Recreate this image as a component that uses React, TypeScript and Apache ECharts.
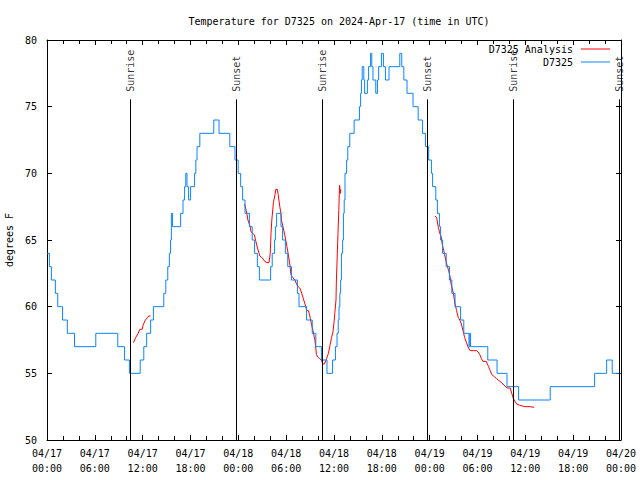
import React, { useEffect, useRef } from 'react';
import * as echarts from 'echarts';

const FONT = 'DejaVu Sans Mono';

const titleText = 'Temperature for D7325 on 2024-Apr-17 (time in UTC)';

// x tick labels every 6 h, hours counted from 2024-04-17 00:00 UTC
const tickLabels = [
  '04/17\n00:00', '04/17\n06:00', '04/17\n12:00', '04/17\n18:00',
  '04/18\n00:00', '04/18\n06:00', '04/18\n12:00', '04/18\n18:00',
  '04/19\n00:00', '04/19\n06:00', '04/19\n12:00', '04/19\n18:00',
  '04/20\n00:00',
];

const sunriseHours = [10.45, 34.53, 58.49];
const sunsetHours = [23.71, 47.7, 71.78];

// Observed temperature (deg F); each value holds from its hour until the next
const observed: [number, number][] = [
  [0, 64], [0.3, 63], [0.55, 62], [1.05, 61], [1.35, 60], [1.95, 59], [2.55, 58], [3.45, 57],
  [6.12, 58], [8.88, 57], [9.73, 56], [10.34, 55], [11.69, 56], [12.14, 57], [12.5, 58],
  [13.0, 59], [13.35, 60], [14.65, 61], [14.9, 62], [15.15, 63], [15.35, 64], [15.5, 65],
  [15.6, 67], [15.75, 66], [16.76, 67], [17.06, 68], [17.26, 69], [17.41, 70], [17.56, 69],
  [17.76, 68], [18.01, 69], [18.51, 70], [18.67, 71], [18.82, 72], [19.17, 73], [20.92, 74],
  [21.58, 73], [22.93, 72], [23.58, 71], [23.98, 70], [24.29, 69], [24.54, 68], [24.84, 67],
  [25.39, 66], [25.74, 65], [26.04, 64], [26.39, 63], [26.64, 62], [28.05, 63], [28.25, 64],
  [28.55, 65], [28.65, 66], [28.8, 67], [29.35, 66], [29.55, 65], [29.9, 64], [30.2, 63],
  [30.66, 62], [31.41, 61], [31.61, 60], [32.56, 59], [33.27, 58], [33.72, 57], [34.42, 56],
  [35.12, 55], [35.82, 56], [36.18, 57], [36.38, 58], [36.53, 59], [36.63, 60], [36.73, 61],
  [36.83, 62], [36.93, 64], [37.08, 65], [37.18, 67], [37.28, 68], [37.38, 70], [37.58, 71],
  [37.73, 72], [37.98, 73], [38.53, 74], [39.19, 75], [39.34, 76], [39.44, 77], [39.54, 78],
  [39.74, 77], [39.84, 76], [40.19, 77], [40.34, 78], [40.59, 79], [40.74, 78], [40.89, 77],
  [41.24, 76], [41.45, 77], [41.6, 78], [41.95, 79], [42.2, 78], [42.45, 77], [42.9, 78],
  [44.25, 79], [44.5, 78], [44.76, 77], [45.16, 76], [45.91, 75], [46.56, 74], [47.11, 73],
  [47.47, 72], [47.87, 71], [48.22, 70], [48.37, 69], [48.77, 68], [48.97, 67], [49.22, 66],
  [49.37, 65], [49.62, 64], [50.07, 63], [50.48, 62], [50.78, 61], [51.18, 60], [51.88, 59],
  [52.28, 58], [52.93, 57], [53.03, 58], [53.13, 57], [55.29, 56], [56.45, 55], [57.7, 54],
  [59.16, 53], [63.12, 54], [68.69, 55], [70.2, 56], [70.9, 55], [71.95, 55],
];

// Analysis series, three separate stretches
const analysisA: [number, number][] = [
  [10.84, 57.3], [11.14, 57.7], [11.44, 58.0], [11.64, 58.3], [11.94, 58.3], [12.04, 58.6],
  [12.34, 59.0], [12.64, 59.2], [12.74, 59.3], [13.0, 59.3],
];
const analysisB: [number, number][] = [
  [24.79, 67.7], [24.99, 67.2], [25.1, 66.9], [25.2, 66.5], [25.49, 66], [25.6, 65.6],
  [25.8, 65.5], [26.0, 65.4], [26.2, 64.9], [26.4, 64.4], [26.6, 64], [26.7, 63.8],
  [26.9, 63.7], [27.1, 63.6], [27.3, 63.4], [27.6, 63.3], [27.85, 63.3], [28.0, 64],
  [28.1, 65.5], [28.2, 66.5], [28.4, 67.8], [28.6, 68.4], [28.7, 68.8], [28.9, 68.8],
  [29.0, 68.4], [29.2, 67.5], [29.35, 67], [29.4, 66.5], [29.6, 66], [29.85, 65.3],
  [30.1, 64.5], [30.3, 63.8], [30.5, 63], [30.6, 62.4], [30.8, 62.2], [31.1, 62],
  [31.3, 61.7], [31.5, 61.5], [31.7, 61.4], [31.9, 61.1], [32.1, 60.7], [32.36, 60.2],
  [32.6, 59.7], [32.8, 59.7], [33.0, 59.2], [33.2, 58.6], [33.4, 58.1], [33.6, 57.5],
  [33.7, 57], [33.8, 56.4], [34.0, 56.2], [34.2, 56.1], [34.4, 56], [34.6, 55.7],
  [34.8, 55.7], [35.07, 56.1], [35.3, 56.5], [35.5, 57.1], [35.7, 57.7], [35.87, 58.1],
  [36.0, 58.8], [36.1, 59.5], [36.25, 60.5], [36.3, 62], [36.4, 63.7], [36.5, 65.5],
  [36.6, 67.2], [36.7, 69.1], [36.8, 68.5], [36.85, 68.8],
];
const analysisC: [number, number][] = [
  [48.67, 66.8], [48.87, 66.7], [49.07, 66], [49.27, 65.5], [49.47, 65.2], [49.57, 64.7],
  [49.77, 64.2], [49.87, 63.9], [50.14, 63.2], [50.38, 62.7], [50.58, 62.2], [50.68, 61.7],
  [50.98, 61], [51.18, 60.2], [51.38, 59.7], [51.58, 59.2], [51.78, 59], [51.98, 58.7],
  [52.18, 58.2], [52.38, 57.7], [52.68, 57.2], [52.88, 56.9], [53.08, 56.7], [53.49, 56.7],
  [53.89, 56.7], [54.09, 56.6], [54.29, 56.4], [54.49, 56.1], [54.69, 55.9], [55.09, 55.9],
  [55.39, 55.5], [55.59, 55.2], [55.8, 54.9], [56.0, 54.8], [56.4, 54.6], [56.8, 54.4],
  [57.2, 54.2], [57.7, 53.9], [58.1, 53.9], [58.3, 53.5], [58.5, 53.1], [58.7, 52.9],
  [58.9, 52.7], [59.3, 52.6], [59.96, 52.5], [60.6, 52.5], [61.1, 52.45],
];

const RED = '#ff0000';
const BLUE = '#0a84ff';
const SUN_LINE_TOP = 75.55;

export default function App() {
  const ref = useRef<HTMLDivElement>(null);

  useEffect(() => {
    if (!ref.current) return;
    const chart = echarts.init(ref.current, null, { renderer: 'svg' });

    const textBase = { fontFamily: FONT, fontSize: 10, color: '#000' };

    const xBase: any = {
      type: 'value',
      min: 0,
      max: 72,
      interval: 6,
      axisLine: { show: true, onZero: false, lineStyle: { color: '#000', width: 1 } },
      axisTick: { show: true, inside: true, length: 5, lineStyle: { color: '#000', width: 1 } },
      minorTick: { show: true, splitNumber: 3, length: 4, lineStyle: { color: '#000', width: 1 } },
      splitLine: { show: false },
      minorSplitLine: { show: false },
    };
    const yBase: any = {
      type: 'value',
      min: 50,
      max: 80,
      interval: 5,
      axisLine: { show: true, onZero: false, lineStyle: { color: '#000', width: 1 } },
      axisTick: { show: true, inside: true, length: 5, lineStyle: { color: '#000', width: 1 } },
      splitLine: { show: false },
    };

    const sunEvents = [
      ...sunriseHours.map((t) => ({ name: 'Sunrise', value: [t, SUN_LINE_TOP] })),
      ...sunsetHours.map((t) => ({ name: 'Sunset', value: [t, SUN_LINE_TOP] })),
    ];

    const analysisSeries = [analysisA, analysisB, analysisC].map((seg) => ({
      type: 'line',
      name: 'D7325 Analysis',
      data: seg,
      symbol: 'none',
      lineStyle: { color: RED, width: 1 },
      itemStyle: { color: RED },
      z: 3,
    }));

    const legendBase: any = {
      right: 30,
      orient: 'vertical',
      align: 'right',
      padding: 0,
      itemWidth: 29,
      itemHeight: 1,
      icon: 'rect',
      textStyle: { ...textBase, padding: [0, 3, 0, 0] },
      selectedMode: false,
    };

    const option: any = {
      animation: false,
      backgroundColor: '#fff',
      title: {
        text: titleText,
        left: 334,
        textAlign: 'center',
        top: 11,
        textStyle: { ...textBase, fontWeight: 'normal' },
      },
      legend: [
        { ...legendBase, data: ['D7325 Analysis'], top: 44 },
        { ...legendBase, data: ['D7325'], top: 57 },
      ],
      grid: {
        left: 47,
        right: 19,
        top: 40,
        bottom: 40,
        containLabel: false,
        outerBoundsMode: 'none',
      },
      xAxis: [
        {
          ...xBase,
          position: 'bottom',
          axisLabel: {
            ...textBase,
            margin: 6,
            lineHeight: 15,
            showMinLabel: true,
            showMaxLabel: true,
            formatter: (v: number) => tickLabels[Math.round(v / 6)] ?? '',
          },
        },
        { ...xBase, position: 'top', axisLabel: { show: false } },
      ],
      yAxis: [
        {
          ...yBase,
          position: 'left',
          name: 'degrees F',
          nameLocation: 'middle',
          nameGap: 31,
          nameTextStyle: textBase,
          axisLabel: { ...textBase, margin: 10 },
        },
        { ...yBase, position: 'right', axisLabel: { show: false } },
      ],
      series: [
        {
          type: 'scatter',
          name: 'sun',
          data: sunEvents,
          symbolSize: 1,
          itemStyle: { color: 'rgba(0,0,0,0)' },
          silent: true,
          z: 1,
          label: {
            show: true,
            formatter: '{b}',
            position: 'top',
            distance: 7,
            rotate: 90,
            align: 'left',
            verticalAlign: 'middle',
            ...textBase,
          },
          markLine: {
            silent: true,
            symbol: ['none', 'none'],
            label: { show: false },
            lineStyle: { color: '#000', width: 1, type: 'solid' },
            emphasis: { disabled: true },
            data: [...sunriseHours, ...sunsetHours].map((t) => [
              { coord: [t, 50] },
              { coord: [t, SUN_LINE_TOP] },
            ]),
          },
        },
        ...analysisSeries,
        {
          type: 'line',
          name: 'D7325',
          data: observed,
          step: 'end',
          symbol: 'none',
          lineStyle: { color: BLUE, width: 1 },
          itemStyle: { color: BLUE },
          z: 4,
        },
      ],
    };

    chart.setOption(option);
    return () => chart.dispose();
  }, []);

  return (
    <div
      ref={ref}
      style={{ position: 'fixed', left: 0, top: 0, width: 640, height: 480, background: '#fff' }}
    />
  );
}
